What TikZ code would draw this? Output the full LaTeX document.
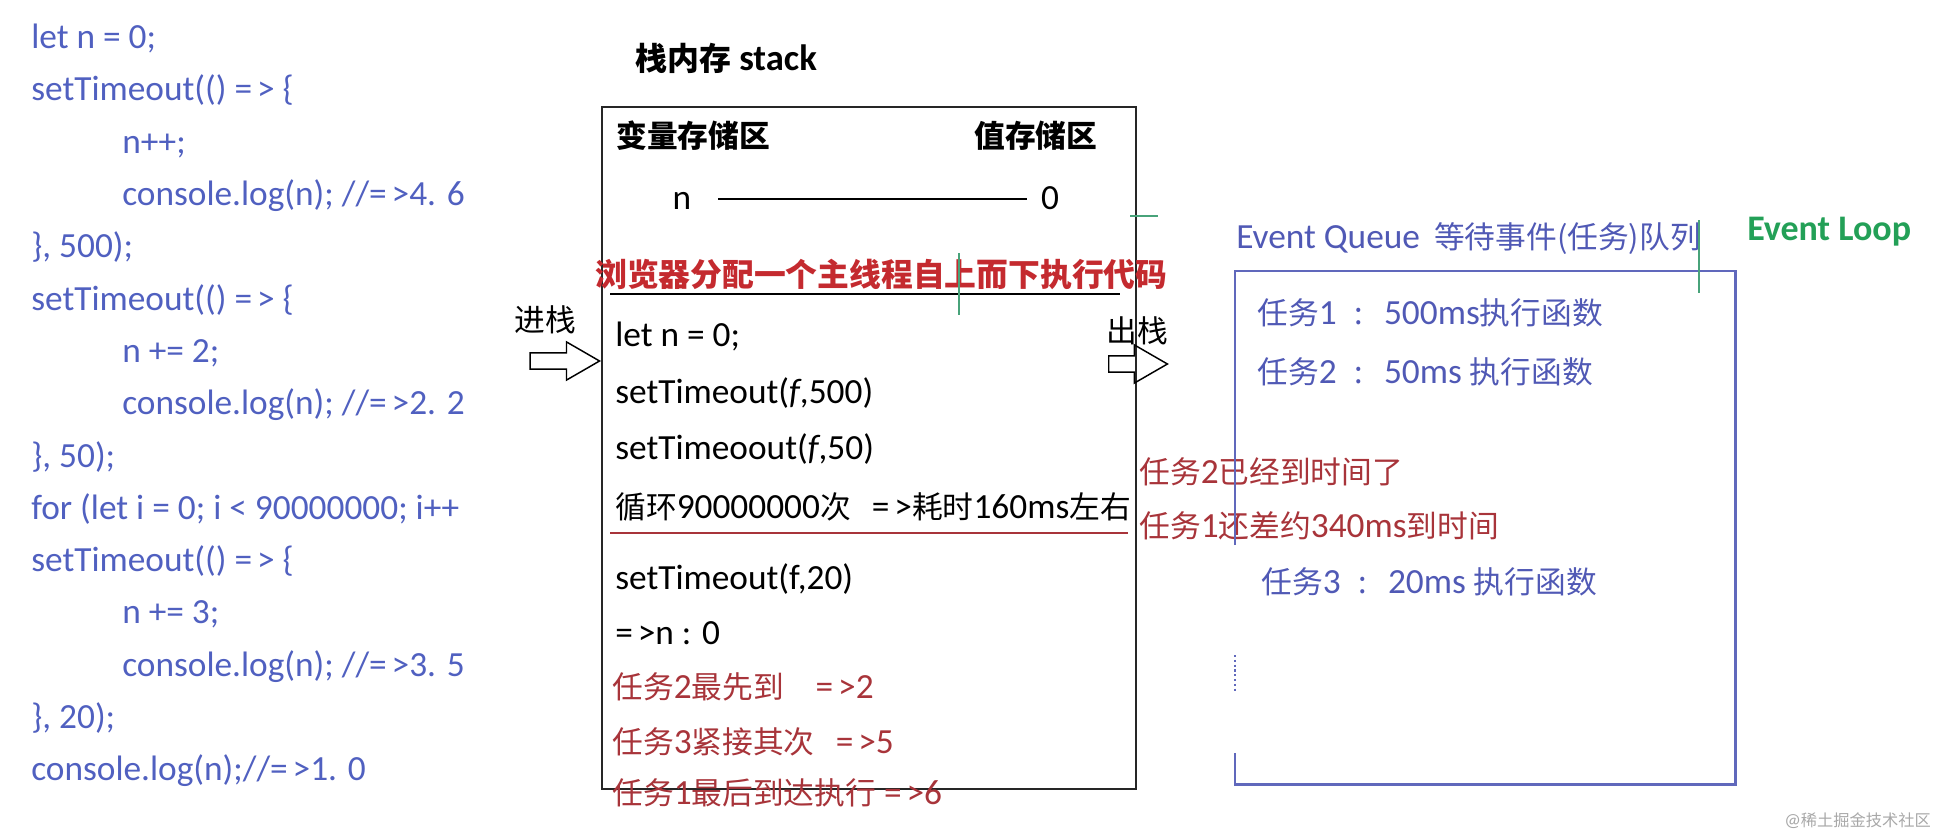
\documentclass[tikz,border=0pt]{standalone}
\usepackage{fontspec}
\setmainfont{Carlito}
\newfontfamily\cjk[Scale=0.87]{Noto Sans CJK SC}
\usetikzlibrary{
  arrows.meta,
  shapes.arrows,
  positioning,
  calc
}
\definecolor{elCode}{HTML}{5060C0}
\definecolor{elQueue}{HTML}{5059B5}
\definecolor{elHead}{HTML}{C42A2F}
\definecolor{elTask}{HTML}{A8343A}
\definecolor{elLoop}{HTML}{23A057}
\definecolor{elMark}{HTML}{48A37A}
\definecolor{elFrame}{HTML}{6068BC}
\definecolor{elMute}{HTML}{A8A8A8}
\newcommand{\zh}[1]{{\cjk #1}}
\newcommand{\yields}{=\kern0.14em>}
\tikzset{
  txt/.style={inner sep=0pt, anchor=west, font=\fontsize{26.5}{30}\selectfont,
    text height=20pt, text depth=4pt},
  code/.style={txt, text=elCode},
  stk/.style={txt, text=black},
  task/.style={txt, text=elTask},
  queue/.style={txt, text=elQueue},
  head/.style={txt, font=\fontsize{26.5}{30}\selectfont\bfseries},
  stackbox/.style={draw=black!85, line width=1.4pt, inner sep=0pt, anchor=north west,
    minimum width=400.5pt, minimum height=511.5pt},
  queuebox/.style={inner sep=0pt, anchor=north west,
    minimum width=375pt, minimum height=384.75pt},
  qframe/.style={draw=elFrame, line width=1.6pt},
  rule/.style={line width=1.2pt},
  cursor/.style={line width=0.8pt, elMark},
  blockarrow/.style={single arrow, draw=black, line width=1.1pt, inner sep=0pt,
    text height=11pt, text depth=0pt, minimum height=52pt,
    single arrow head extend=8.25pt, single arrow tip angle=60}
}

\begin{document}
\begin{tikzpicture}[x=0.75pt, y=-0.75pt]
  \useasboundingbox (0,0) rectangle (1952,838);
  % source code
  \foreach \k/\ind/\src in {
    0/0/{let n = 0;},
    1/0/{setTimeout(() \yields\ \{},
    2/1/{n++;},
    3/1/{console.log(n); //\yields4. 6},
    4/0/{\}, 500);},
    5/0/{setTimeout(() \yields\ \{},
    6/1/{n += 2;},
    7/1/{console.log(n); //\yields2. 2},
    8/0/{\}, 50);},
    9/0/{for (let i = 0; i < 90000000; i++},
    10/0/{setTimeout(() \yields\ \{},
    11/1/{n += 3;},
    12/1/{console.log(n); //\yields3. 5},
    13/0/{\}, 20);},
    14/0/{console.log(n);//\yields1. 0}}{
    \node[code] (code\k) at ({31+91*\ind}, {38+52.3*\k}) {\src};
  }

  % stack memory
  \node[head, font=\fontsize{27.5}{30}\selectfont\bfseries] (stacktitle)
    at (635,60) {\zh{栈内存} stack};
  \node[stackbox] (stack) at (601,106) {};
  \node[head] (varzone) at (616,137) {\zh{变量存储区}};
  \node[head] (valzone) at (974,137) {\zh{值存储区}};
  \node[stk, anchor=center] (var) at (682,199) {n};
  \node[stk, anchor=center] (val) at (1050,199) {0};
  \draw[rule, shorten <=20pt, shorten >=10pt] (var.east) -- (val.west);
  \node[txt, text=elHead, font=\fontsize{27.4}{32}\selectfont\bfseries] (mainthread)
    at (595,276) {\zh{浏览器分配一个主线程自上而下执行代码}};
  \draw[rule] (610,294) -- (1120,294);
  \foreach \y/\src in {
    336/{let n = 0;},
    393/{setTimeout(\textit{f},500)},
    449/{setTimeoout(\textit{f},50)},
    508/{\zh{循环}90000000\zh{次}\hspace{0.6em}\yields\zh{耗时}160ms\zh{左右}},
    579/{setTimeout(f,20)},
    634/{\yields n : 0}}{
    \node[stk] (frame\y) at (615,\y) {\src};
  }
  \draw[rule, elTask] (610,533) -- (1128,533);
  \foreach \y/\src in {
    688/{\zh{任务}2\zh{最先到}\hspace{0.9em}\yields2},
    743/{\zh{任务}3\zh{紧接其次}\hspace{0.6em}\yields5},
    794/{\zh{任务}1\zh{最后到达执行} \yields6}}{
    \node[task] (done\y) at (612,\y) {\src};
  }

  % push / pop
  \node[txt] (pushlbl) at (514,321) {\zh{进栈}};
  \node[blockarrow, anchor=tip] (pusharr) at (601,361) {};
  \node[txt] (poplbl) at (1106,332) {\zh{出栈}};
  \node[blockarrow, minimum height=44pt, anchor=tail] (poparr) at (1108,364) {};

  % timers
  \node[task] (note2) at (1139,473) {\zh{任务}2\zh{已经到时间了}};
  \node[task] (note1) at (1139,527) {\zh{任务}1\zh{还差约}340ms\zh{到时间}};

  % event queue
  \node[queue] (queuetitle) at (1236,238) {Event Queue\hspace{0.4em}\zh{等待事件(任务)队列}};
  \node[queuebox] (queue) at (1235,271) {};
  \draw[qframe] ([yshift=-205.5pt]queue.north west) -- (queue.north west)
    -- (queue.north east) -- (queue.south east) -- (queue.south west)
    -- ([yshift=24pt]queue.south west);
  \draw[qframe, dotted, line width=1.2pt] ([yshift=-288pt]queue.north west)
    -- ([yshift=-316pt]queue.north west);
  \node[queue] (task1) at (1257,314) {\zh{任务}1\hspace{0.5em}\zh{:}\hspace{0.6em}500ms\zh{执行函数}};
  \node[queue] (task2) at (1257,373) {\zh{任务}2\hspace{0.5em}\zh{:}\hspace{0.6em}50ms \zh{执行函数}};
  \node[queue] (task3) at (1261,583) {\zh{任务}3\hspace{0.5em}\zh{:}\hspace{0.6em}20ms \zh{执行函数}};
  \node[txt, text=elLoop, font=\fontsize{27}{30}\selectfont\bfseries] (loop)
    at (1747,230) {Event Loop};

  % cursor marks
  \draw[cursor] (959,253) -- (959,315);
  \draw[cursor] (1130,216) -- (1158,216);
  \draw[cursor] (1699,220) -- (1699,293);

  \node[txt, text=elMute, font=\fontsize{14}{16}\selectfont, text height=10pt, text depth=3pt]
    (wmark) at (1784,822) {@\zh{稀土掘金技术社区}};
\end{tikzpicture}
\end{document}
